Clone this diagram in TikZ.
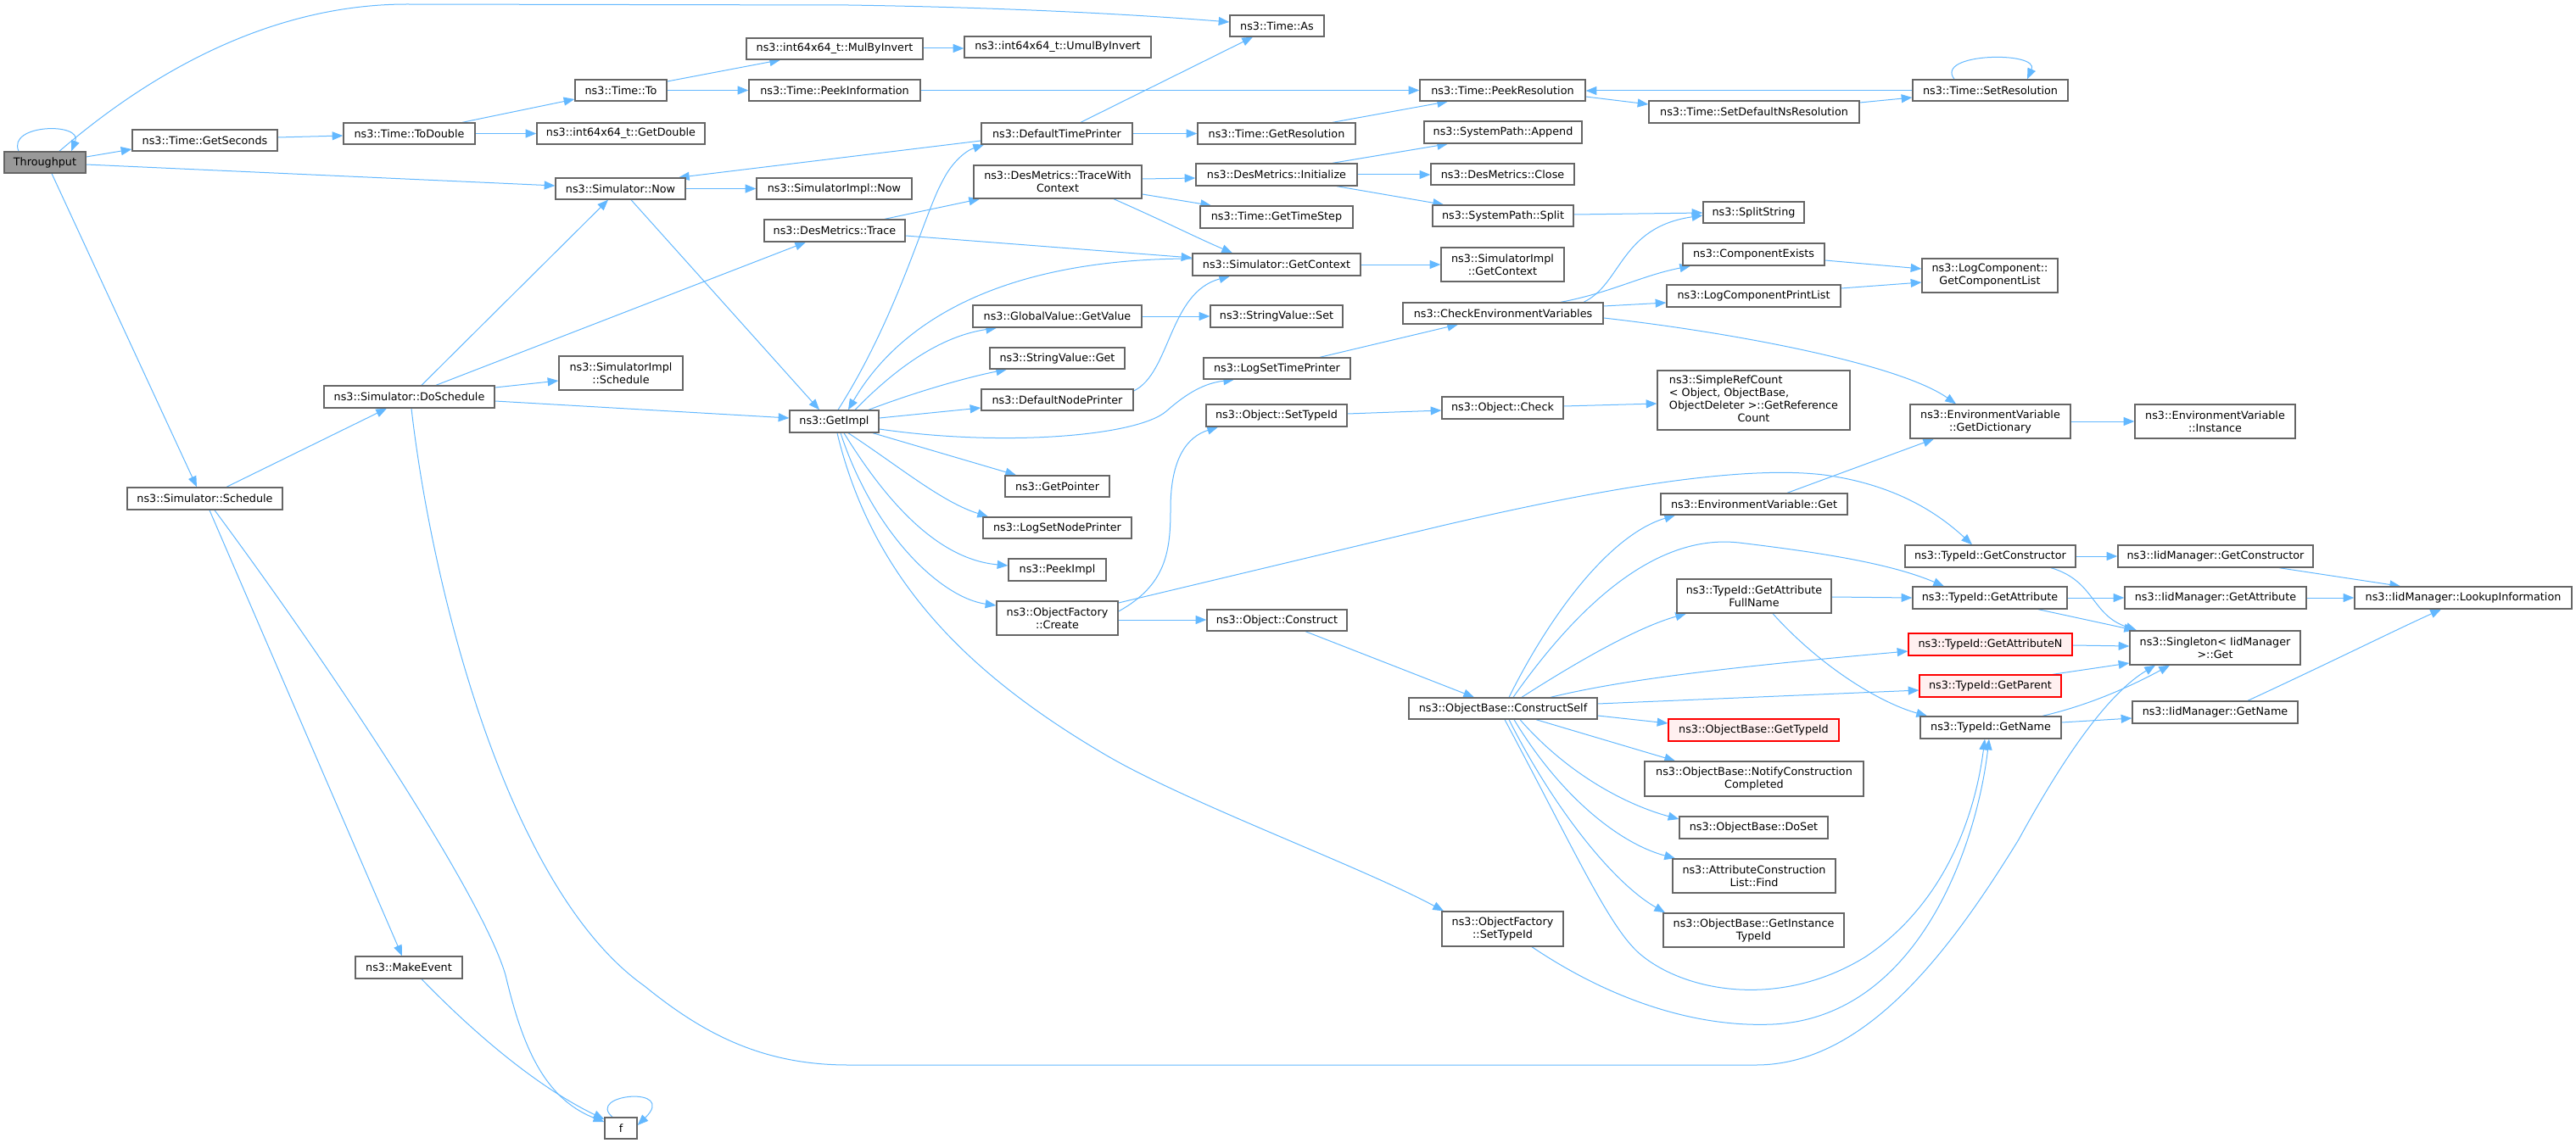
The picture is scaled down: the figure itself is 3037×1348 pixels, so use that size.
\documentclass[tikz,border=0pt]{standalone}
\usepackage{fontspec}
\setmainfont{DejaVu Sans}
\usetikzlibrary{arrows.meta}
\definecolor{edgec}{HTML}{63B8FF}
\definecolor{bordc}{HTML}{666666}
\definecolor{rootf}{HTML}{999999}
\definecolor{redf}{HTML}{FFF0F0}
\definecolor{redb}{HTML}{FF0000}
\pgfdeclarelayer{background}
\pgfsetlayers{background,main}
\tikzset{
 nbox/.style={draw=bordc, fill=white, line width=1pt, rectangle, inner sep=0pt, align=center, font=\fontsize{9.57pt}{11.25pt}\selectfont},
 rootbox/.style={nbox, fill=rootf},
 redbox/.style={nbox, draw=redb, fill=redf},
 edg/.style={draw=edgec, line width=0.75pt, -{Triangle[length=9.5pt,width=7.5pt]}},
}
\newcommand{\nd}[7][nbox]{\node[#1, minimum width={(#5-#3)*0.75pt}, minimum height={(#6-#4)*0.75pt}] (#2) at ({(#3+#5)/2},{(#4+#6)/2}) {#7};}
\begin{document}
\begin{tikzpicture}[x=0.75pt,y=-0.75pt]
\useasboundingbox (0,0) rectangle (3037,1348);
\nd[rootbox]{T}{5}{179}{101}{204}{Throughput}
\nd{GS}{156}{153}{327}{178}{ns3::Time::GetSeconds}
\nd{TD}{405}{145}{560}{170}{ns3::Time::ToDouble}
\nd{TT}{678}{94}{786}{119}{ns3::Time::To}
\nd{GD}{633}{145}{831}{170}{ns3::int64x64\_t::GetDouble}
\nd{SN}{655}{210}{808}{235}{ns3::Simulator::Now}
\nd{SIS}{659}{420}{805}{460}{ns3::SimulatorImpl\\::Schedule}
\nd{TA}{1450}{18}{1561}{43}{ns3::Time::As}
\nd{MBI}{880}{45}{1088}{70}{ns3::int64x64\_t::MulByInvert}
\nd{UBI}{1137}{43}{1357}{68}{ns3::int64x64\_t::UmulByInvert}
\nd{PI}{883}{94}{1085}{119}{ns3::Time::PeekInformation}
\nd{DTP}{1157}{145}{1335}{170}{ns3::DefaultTimePrinter}
\nd{GR}{1412}{145}{1598}{170}{ns3::Time::GetResolution}
\nd{TWC}{1148}{195}{1346}{234}{ns3::DesMetrics::TraceWith\\Context}
\nd{DMI}{1410}{193}{1600}{219}{ns3::DesMetrics::Initialize}
\nd{SIN}{892}{210}{1075}{235}{ns3::SimulatorImpl::Now}
\nd{DMT}{901}{259}{1067}{285}{ns3::DesMetrics::Trace}
\nd{GTS}{1415}{243}{1595}{269}{ns3::Time::GetTimeStep}
\nd{SGC}{1406}{299}{1604}{325}{ns3::Simulator::GetContext}
\nd{GVG}{1147}{360}{1346}{386}{ns3::GlobalValue::GetValue}
\nd{SVS}{1427}{360}{1583}{386}{ns3::StringValue::Set}
\nd{SVG}{1167}{410}{1326}{435}{ns3::StringValue::Get}
\nd{LST}{1419}{422}{1592}{447}{ns3::LogSetTimePrinter}
\nd{PR}{1674}{94}{1869}{119}{ns3::Time::PeekResolution}
\nd{SDN}{1944}{119}{2192}{145}{ns3::Time::SetDefaultNsResolution}
\nd{SR}{2255}{94}{2438}{119}{ns3::Time::SetResolution}
\nd{SPA}{1679}{143}{1865}{169}{ns3::SystemPath::Append}
\nd{DMC}{1687}{193}{1856}{218}{ns3::DesMetrics::Close}
\nd{SPS}{1689}{242}{1855}{267}{ns3::SystemPath::Split}
\nd{SS}{2008}{238}{2127}{263}{ns3::SplitString}
\nd{SIGC}{1699}{292}{1844}{332}{ns3::SimulatorImpl\\::GetContext}
\nd{CE}{1984}{287}{2151}{313}{ns3::ComponentExists}
\nd{LCPL}{1965}{336}{2170}{362}{ns3::LogComponentPrintList}
\nd{CEV}{1654}{357}{1890}{382}{ns3::CheckEnvironmentVariables}
\nd{GCL}{2266}{305}{2426}{345}{ns3::LogComponent::\\GetComponentList}
\nd{SRC}{1954}{437}{2181}{507}{\begin{tabular}{@{}l@{}}ns3::SimpleRefCount\\< Object, ObjectBase,\\ObjectDeleter >::GetReference\\\multicolumn{1}{@{}c@{}}{Count}\end{tabular}}
\nd{OST}{1422}{477}{1588}{503}{ns3::Object::SetTypeId}
\nd{OC}{1700}{468}{1843}{494}{ns3::Object::Check}
\nd{OFC}{1175}{709}{1318}{749}{ns3::ObjectFactory\\::Create}
\nd{OCo}{1423}{719}{1588}{744}{ns3::Object::Construct}
\nd{GI}{931}{484}{1036}{510}{ns3::GetImpl}
\nd{DNP}{1157}{459}{1336}{484}{ns3::DefaultNodePrinter}
\nd{GP}{1185}{561}{1308}{586}{ns3::GetPointer}
\nd{LSNP}{1159}{610}{1334}{635}{ns3::LogSetNodePrinter}
\nd{PKI}{1189}{659}{1304}{685}{ns3::PeekImpl}
\nd{EVG}{1958}{582}{2178}{607}{ns3::EnvironmentVariable::Get}
\nd{GAFN}{1977}{683}{2159}{723}{ns3::TypeId::GetAttribute\\FullName}
\nd{CS}{1661}{823}{1883}{848}{ns3::ObjectBase::ConstructSelf}
\nd[redbox]{OBGT}{1967}{848}{2168}{874}{ns3::ObjectBase::GetTypeId}
\nd{EVD}{2252}{477}{2441}{517}{ns3::EnvironmentVariable\\::GetDictionary}
\nd{EVI}{2517}{477}{2706}{517}{ns3::EnvironmentVariable\\::Instance}
\nd{TGC}{2246}{643}{2447}{669}{ns3::TypeId::GetConstructor}
\nd{IGC}{2497}{643}{2727}{669}{ns3::IidManager::GetConstructor}
\nd{TGA}{2255}{692}{2437}{718}{ns3::TypeId::GetAttribute}
\nd{IGA}{2505}{692}{2719}{718}{ns3::IidManager::GetAttribute}
\nd{LI}{2776}{692}{3032}{718}{ns3::IidManager::LookupInformation}
\nd[redbox]{TGAN}{2250}{747}{2443}{773}{ns3::TypeId::GetAttributeN}
\nd{SG}{2511}{744}{2712}{784}{ns3::Singleton< IidManager\\>::Get}
\nd[redbox]{TGP}{2263}{796}{2430}{822}{ns3::TypeId::GetParent}
\nd{IGN}{2514}{827}{2709}{853}{ns3::IidManager::GetName}
\nd{TGN}{2264}{845}{2430}{871}{ns3::TypeId::GetName}
\nd{NCC}{1939}{898}{2197}{939}{ns3::ObjectBase::NotifyConstruction\\Completed}
\nd{DS}{1980}{963}{2155}{989}{ns3::ObjectBase::DoSet}
\nd{ACL}{1972}{1013}{2164}{1053}{ns3::AttributeConstruction\\List::Find}
\nd{GIT}{1961}{1077}{2174}{1117}{ns3::ObjectBase::GetInstance\\TypeId}
\nd{OFST}{1700}{1075}{1843}{1116}{ns3::ObjectFactory\\::SetTypeId}
\nd{DoS}{382}{455}{583}{481}{ns3::Simulator::DoSchedule}
\nd{SSch}{150}{575}{333}{601}{ns3::Simulator::Schedule}
\nd{ME}{419}{1128}{545}{1154}{ns3::MakeEvent}
\nd{F}{713}{1318}{751}{1343}{f}
\begin{pgfonlayer}{background}
\draw[edg] (T.north -| 22,0) .. controls (8,146) and (98,144) .. (T.north -| 84,0);
\draw[edg] (T.north -| 70,0) .. controls (190,75) and (330,5) .. (480,5) -- (1000,6) .. controls (1200,9) and (1350,18) .. (TA.west |- 0,26);
\draw[edg] (T.east |- 0,185) -- (GS.west |- 0,176);
\draw[edg] (T.east |- 0,194) -- (SN.west |- 0,219);
\draw[edg] (T.south -| 61,0) -- (SSch.north -| 232,0);
\draw[edg] (GS.east |- 0,162) -- (TD.west |- 0,160);
\draw[edg] (TD.north -| 545,0) -- (TT.west |- 0,117);
\draw[edg] (TD) -- (GD);
\draw[edg] (TT.east |- 0,96) -- (MBI.south -| 920,0);
\draw[edg] (TT) -- (PI);
\draw[edg] (MBI.east |- 0,57) -- (UBI.west |- 0,57);
\draw[edg] (PI) -- (PR);
\draw[edg] (DTP.north -| 1274,0) -- (TA.south -| 1477,0);
\draw[edg] (DTP) -- (GR);
\draw[edg] (DTP.west |- 0,166) -- (SN.north -| 800,0);
\draw[edg] (GR.north -| 1571,0) -- (PR.south -| 1707,0);
\draw[edg] (PR.east |- 0,114) -- (SDN.west |- 0,123);
\draw[edg] (SDN.east |- 0,121) -- (SR.west |- 0,115);
\draw[edg] (SR.west |- 0,107) -- (PR.east |- 0,107);
\draw[edg] (SR.north -| 2304,0) .. controls (2280,62) and (2405,60) .. (SR.north -| 2390,0);
\draw[edg] (SN) -- (SIN);
\draw[edg] (SN.south -| 744,0) -- (GI.north -| 966,0);
\draw[edg] (DMT.north -| 1043,0) -- (TWC.south -| 1155,0);
\draw[edg] (DMT.east |- 0,278) -- (SGC.west |- 0,304);
\draw[edg] (TWC.east |- 0,211) -- (DMI.west |- 0,210);
\draw[edg] (TWC.east |- 0,229) -- (GTS.north -| 1428,0);
\draw[edg] (TWC.south -| 1313,0) .. controls (1375,262) and (1410,280) .. (SGC.north -| 1453,0);
\draw[edg] (DMI.north -| 1571,0) -- (SPA.south -| 1707,0);
\draw[edg] (DMI.east |- 0,206) -- (DMC.west |- 0,206);
\draw[edg] (DMI.south -| 1576,0) -- (SPS.north -| 1702,0);
\draw[edg] (SPS.east |- 0,253) -- (SS.west |- 0,251);
\draw[edg] (SGC.west |- 0,305) .. controls (1180,305) and (1060,380) .. (GI.north -| 1000,0);
\draw[edg] (GI.north -| 988,0) .. controls (1060,370) and (1090,250) .. (1112,212) .. controls (1122,192) and (1138,178) .. (DTP.south -| 1160,0);
\draw[edg] (GI.north -| 1008,0) .. controls (1070,420) and (1120,395) .. (GVG.south -| 1175,0);
\draw[edg] (GI.north -| 1024,0) .. controls (1080,462) and (1140,445) .. (SVG.south -| 1187,0);
\draw[edg] (GI.east |- 0,493) -- (DNP.west |- 0,481);
\draw[edg] (DNP.east |- 0,461) .. controls (1380,440) and (1378,345) .. (SGC.south -| 1450,0);
\draw[edg] (GI.east |- 0,506) .. controls (1180,527) and (1340,515) .. (1375,485) .. controls (1400,463) and (1420,452) .. (LST.south -| 1455,0);
\draw[edg] (LST.north -| 1556,0) -- (CEV.south -| 1719,0);
\draw[edg] (GI.south -| 1029,0) -- (GP.north -| 1198,0);
\draw[edg] (GI.south -| 1000,0) .. controls (1060,550) and (1110,592) .. (LSNP.north -| 1165,0);
\draw[edg] (GI.south -| 995,0) .. controls (1050,600) and (1110,660) .. (PKI.west |- 0,667);
\draw[edg] (GI.south -| 991,0) .. controls (1030,630) and (1110,705) .. (OFC.west |- 0,714);
\draw[edg] (GI.south -| 987,0) .. controls (1030,690) and (1150,800) .. (1303,890) .. controls (1400,947) and (1600,1020) .. (OFST.north -| 1702,0);
\draw[edg] (OFC.east |- 0,721) .. controls (1375,690) and (1380,650) .. (1380,600) .. controls (1380,540) and (1400,515) .. (OST.south -| 1436,0);
\draw[edg] (OFC.east |- 0,731) -- (OCo.west |- 0,731);
\draw[edg] (OFC.east |- 0,711) -- (1700,620) .. controls (1880,578) and (2050,548) .. (2150,560) .. controls (2240,572) and (2290,610) .. (TGC.north -| 2325,0);
\draw[edg] (OST.east |- 0,488) -- (OC.west |- 0,484);
\draw[edg] (OC.east |- 0,479) -- (SRC.west |- 0,476);
\draw[edg] (OCo.south -| 1539,0) -- (CS.north -| 1738,0);
\draw[edg] (CS.north -| 1779,0) .. controls (1830,720) and (1900,630) .. (EVG.south -| 1975,0);
\draw[edg] (CS.north -| 1784,0) .. controls (1870,700) and (1960,630) .. (2050,640) .. controls (2150,652) and (2230,665) .. (TGA.north -| 2292,0);
\draw[edg] (CS.north -| 1794,0) .. controls (1860,780) and (1930,740) .. (GAFN.south -| 1988,0);
\draw[edg] (CS.north -| 1828,0) .. controls (1900,805) and (2000,790) .. (TGAN.west |- 0,768);
\draw[edg] (CS.east |- 0,830) -- (TGP.west |- 0,814);
\draw[edg] (CS.east |- 0,844) -- (OBGT.west |- 0,853);
\draw[edg] (CS.south -| 1811,0) -- (NCC.north -| 1975,0);
\draw[edg] (CS.south -| 1792,0) .. controls (1850,915) and (1920,950) .. (DS.west |- 0,966);
\draw[edg] (CS.south -| 1785,0) .. controls (1840,940) and (1910,995) .. (ACL.north -| 1975,0);
\draw[edg] (CS.south -| 1779,0) .. controls (1830,950) and (1900,1040) .. (GIT.north -| 1963,0);
\draw[edg] (CS.south -| 1774,0) .. controls (1860,1010) and (1900,1100) .. (1937,1128) .. controls (1990,1170) and (2100,1190) .. (2200,1128) .. controls (2300,1060) and (2330,950) .. (TGN.south -| 2340,0);
\draw[edg] (OFST.south -| 1806,0) .. controls (1900,1180) and (2000,1212) .. (2090,1208) .. controls (2260,1200) and (2330,1000) .. (TGN.south -| 2345,0);
\draw[edg] (DoS.south -| 485,0) .. controls (510,700) and (600,1050) .. (760,1163) .. controls (830,1220) and (900,1256) .. (1000,1256) -- (2070,1256) .. controls (2200,1256) and (2300,1120) .. (2380,990) .. controls (2440,880) and (2490,815) .. (SG.south -| 2541,0);
\draw[edg] (SSch.north -| 267,0) -- (DoS.south -| 456,0);
\draw[edg] (SSch.south -| 247,0) -- (ME.north -| 474,0);
\draw[edg] (SSch.south -| 253,0) .. controls (400,800) and (570,1060) .. (596,1150) .. controls (615,1230) and (640,1295) .. (F.west |- 0,1323);
\draw[edg] (ME.south -| 497,0) .. controls (580,1240) and (650,1290) .. (F.west |- 0,1320);
\draw[edg] (F.north -| 722,0) .. controls (690,1290) and (800,1280) .. (F.east |- 0,1327);
\draw[edg] (DoS.north -| 497,0) -- (SN.south -| 717,0);
\draw[edg] (DoS.north -| 514,0) -- (DMT.south -| 950,0);
\draw[edg] (DoS.east |- 0,457) -- (SIS.west |- 0,449);
\draw[edg] (DoS.east |- 0,473) -- (GI.west |- 0,493);
\draw[edg] (CEV.north -| 1867,0) .. controls (1912,335) and (1910,268) .. (SS.west |- 0,254);
\draw[edg] (CEV.north -| 1840,0) .. controls (1900,345) and (1935,325) .. (CE.south -| 1993,0);
\draw[edg] (CEV.east |- 0,361) -- (LCPL.west |- 0,357);
\draw[edg] (CE.east |- 0,307) -- (GCL.west |- 0,317);
\draw[edg] (LCPL.east |- 0,340) -- (GCL.west |- 0,333);
\draw[edg] (CEV.east |- 0,375) .. controls (2050,393) and (2240,430) .. (EVD.north -| 2306,0);
\draw[edg] (EVD) -- (EVI);
\draw[edg] (EVG.north -| 2107,0) -- (EVD.south -| 2280,0);
\draw[edg] (GAFN.east |- 0,704) -- (TGA.west |- 0,705);
\draw[edg] (GAFN.south -| 2090,0) .. controls (2150,790) and (2220,830) .. (TGN.north -| 2272,0);
\draw[edg] (TGC) -- (IGC);
\draw[edg] (TGC.south -| 2418,0) .. controls (2470,685) and (2465,725) .. (SG.north -| 2519,0);
\draw[edg] (TGA) -- (IGA);
\draw[edg] (TGA.south -| 2403,0) -- (SG.north -| 2517,0);
\draw[edg] (TGAN.east |- 0,761) -- (SG.west |- 0,762);
\draw[edg] (TGP.north -| 2420,0) -- (SG.west |- 0,782);
\draw[edg] (TGN.east |- 0,852) -- (IGN.west |- 0,847);
\draw[edg] (TGN.north -| 2408,0) .. controls (2470,830) and (2520,805) .. (SG.south -| 2558,0);
\draw[edg] (IGC.south -| 2687,0) -- (LI.north -| 2830,0);
\draw[edg] (IGA) -- (LI);
\draw[edg] (IGN.north -| 2650,0) .. controls (2750,780) and (2820,745) .. (LI.south -| 2878,0);
\draw[edg] (GVG) -- (SVS);
\draw[edg] (SGC) -- (SIGC);
\end{pgfonlayer}
\end{tikzpicture}
\end{document}
